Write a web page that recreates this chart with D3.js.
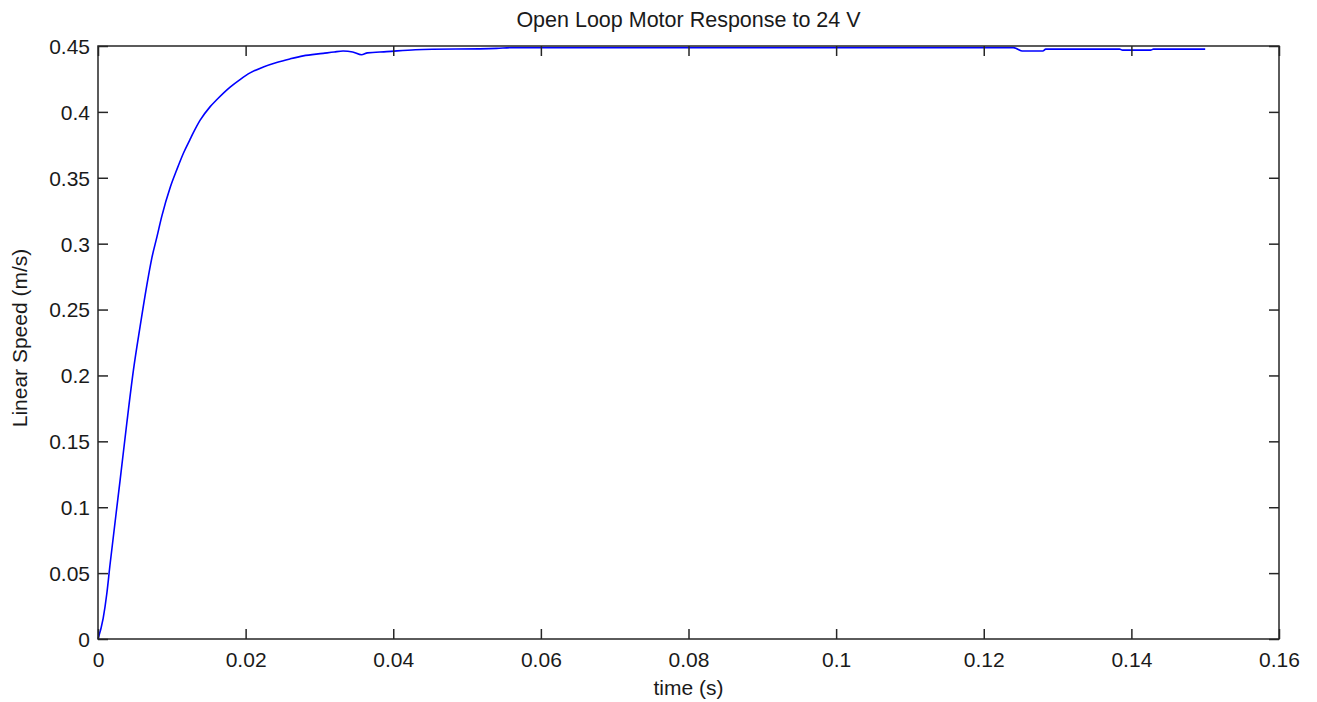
<!DOCTYPE html>
<html>
<head>
<meta charset="utf-8">
<script src="https://cdn.jsdelivr.net/npm/d3@7/dist/d3.min.js"></script>
<style>
  html, body { margin: 0; padding: 0; background: #fff; }
  svg text { font-family: "Liberation Sans", Arial, Helvetica, sans-serif; fill: #1a1a1a; }
</style>
</head>
<body>
<svg id="chart" width="1317" height="702"></svg>
<script>
// Measured motor speed after a 24 V step
const timeS = [0, 0.0007, 0.0012, 0.0016, 0.0030, 0.0039, 0.0048, 0.0057, 0.0066, 0.00727, 0.0080, 0.00863,
  0.0098, 0.01066, 0.0116, 0.01246, 0.0129, 0.01382, 0.0152, 0.01608, 0.0179, 0.01924, 0.0206, 0.0224, 0.0242,
  0.0260, 0.0278, 0.0305, 0.0320, 0.0332, 0.0345, 0.0357, 0.0365, 0.0391, 0.0430, 0.0540, 0.0560, 0.0800,
  0.1000, 0.1240, 0.1246, 0.1252, 0.1280, 0.1284, 0.1384, 0.1388, 0.1426, 0.1430, 0.1500];
const speedMps = [0, 0.0157, 0.0347, 0.055, 0.1207, 0.1637, 0.204, 0.237, 0.268, 0.2885, 0.3055, 0.3205,
  0.343, 0.3559, 0.3690, 0.3790, 0.3840, 0.3935, 0.404, 0.4092, 0.4188, 0.4245, 0.4296, 0.4341, 0.4375,
  0.4402, 0.4425, 0.4444, 0.4455, 0.4462, 0.4455, 0.4434, 0.4448, 0.4457, 0.4472, 0.4482, 0.4488, 0.4488,
  0.4488, 0.4488, 0.4476, 0.4462, 0.4462, 0.4476, 0.4476, 0.4469, 0.4469, 0.4476, 0.4476];

const xTicks = [0, 0.02, 0.04, 0.06, 0.08, 0.10, 0.12, 0.14, 0.16];
const xTickLabels = ["0", "0.02", "0.04", "0.06", "0.08", "0.1", "0.12", "0.14", "0.16"];
const yTicks = [0, 0.05, 0.10, 0.15, 0.20, 0.25, 0.30, 0.35, 0.40, 0.45];
const yTickLabels = ["0", "0.05", "0.1", "0.15", "0.2", "0.25", "0.3", "0.35", "0.4", "0.45"];

const titleText = "Open Loop Motor Response to 24 V";
const xLabelText = "time (s)";
const yLabelText = "Linear Speed (m/s)";

const plot = { left: 98, right: 1279, top: 46, bottom: 639 };
const tickLen = 10;
const fontSize = 21;

const svg = d3.select("#chart");

const x = d3.scaleLinear().domain([0, 0.16]).range([plot.left, plot.right]);
const y = d3.scaleLinear().domain([0, 0.45]).range([plot.bottom, plot.top]);

// Data line
const line = d3.line()
  .x((d, i) => x(timeS[i]))
  .y((d, i) => y(speedMps[i]))
  .curve(d3.curveMonotoneX);

svg.append("path")
  .datum(speedMps)
  .attr("d", line)
  .attr("fill", "none")
  .attr("stroke", "#0000ff")
  .attr("stroke-width", 1.6)
  .attr("stroke-linejoin", "round");

// Axes: ticks point inward on all four sides
function styleAxis(g) {
  g.select(".domain").remove();
  g.selectAll(".tick line").attr("stroke", "#262626").attr("stroke-width", 1.5);
  g.selectAll(".tick text").attr("font-size", fontSize).attr("fill", "#1a1a1a")
    .attr("font-family", "'Liberation Sans', Arial, sans-serif");
}

const xBottom = d3.axisBottom(x).tickValues(xTicks)
  .tickFormat((d, i) => xTickLabels[i]).tickSizeInner(-tickLen).tickSizeOuter(0);
svg.append("g").attr("transform", `translate(0,${plot.bottom})`).call(xBottom).call(styleAxis)
  .selectAll(".tick text").attr("dy", "0").attr("y", 28);

const xTop = d3.axisTop(x).tickValues(xTicks).tickFormat("").tickSizeInner(-tickLen).tickSizeOuter(0);
svg.append("g").attr("transform", `translate(0,${plot.top})`).call(xTop).call(styleAxis);

const yLeft = d3.axisLeft(y).tickValues(yTicks)
  .tickFormat((d, i) => yTickLabels[i]).tickSizeInner(-tickLen).tickSizeOuter(0);
svg.append("g").attr("transform", `translate(${plot.left},0)`).call(yLeft).call(styleAxis)
  .selectAll(".tick text").attr("x", -8).attr("dy", "0.35em");

const yRight = d3.axisRight(y).tickValues(yTicks).tickFormat("").tickSizeInner(-tickLen).tickSizeOuter(0);
svg.append("g").attr("transform", `translate(${plot.right},0)`).call(yRight).call(styleAxis);

// Box frame
svg.append("rect")
  .attr("x", plot.left).attr("y", plot.top)
  .attr("width", plot.right - plot.left).attr("height", plot.bottom - plot.top)
  .attr("fill", "none").attr("stroke", "#262626").attr("stroke-width", 1.5);

// Titles
svg.append("text")
  .attr("x", (plot.left + plot.right) / 2).attr("y", 27)
  .attr("text-anchor", "middle").attr("font-size", fontSize + 0.5)
  .text(titleText);

svg.append("text")
  .attr("x", (plot.left + plot.right) / 2).attr("y", 695)
  .attr("text-anchor", "middle").attr("font-size", fontSize)
  .text(xLabelText);

svg.append("text")
  .attr("transform", `translate(27,338) rotate(-90)`)
  .attr("text-anchor", "middle").attr("font-size", fontSize)
  .text(yLabelText);
</script>
</body>
</html>
